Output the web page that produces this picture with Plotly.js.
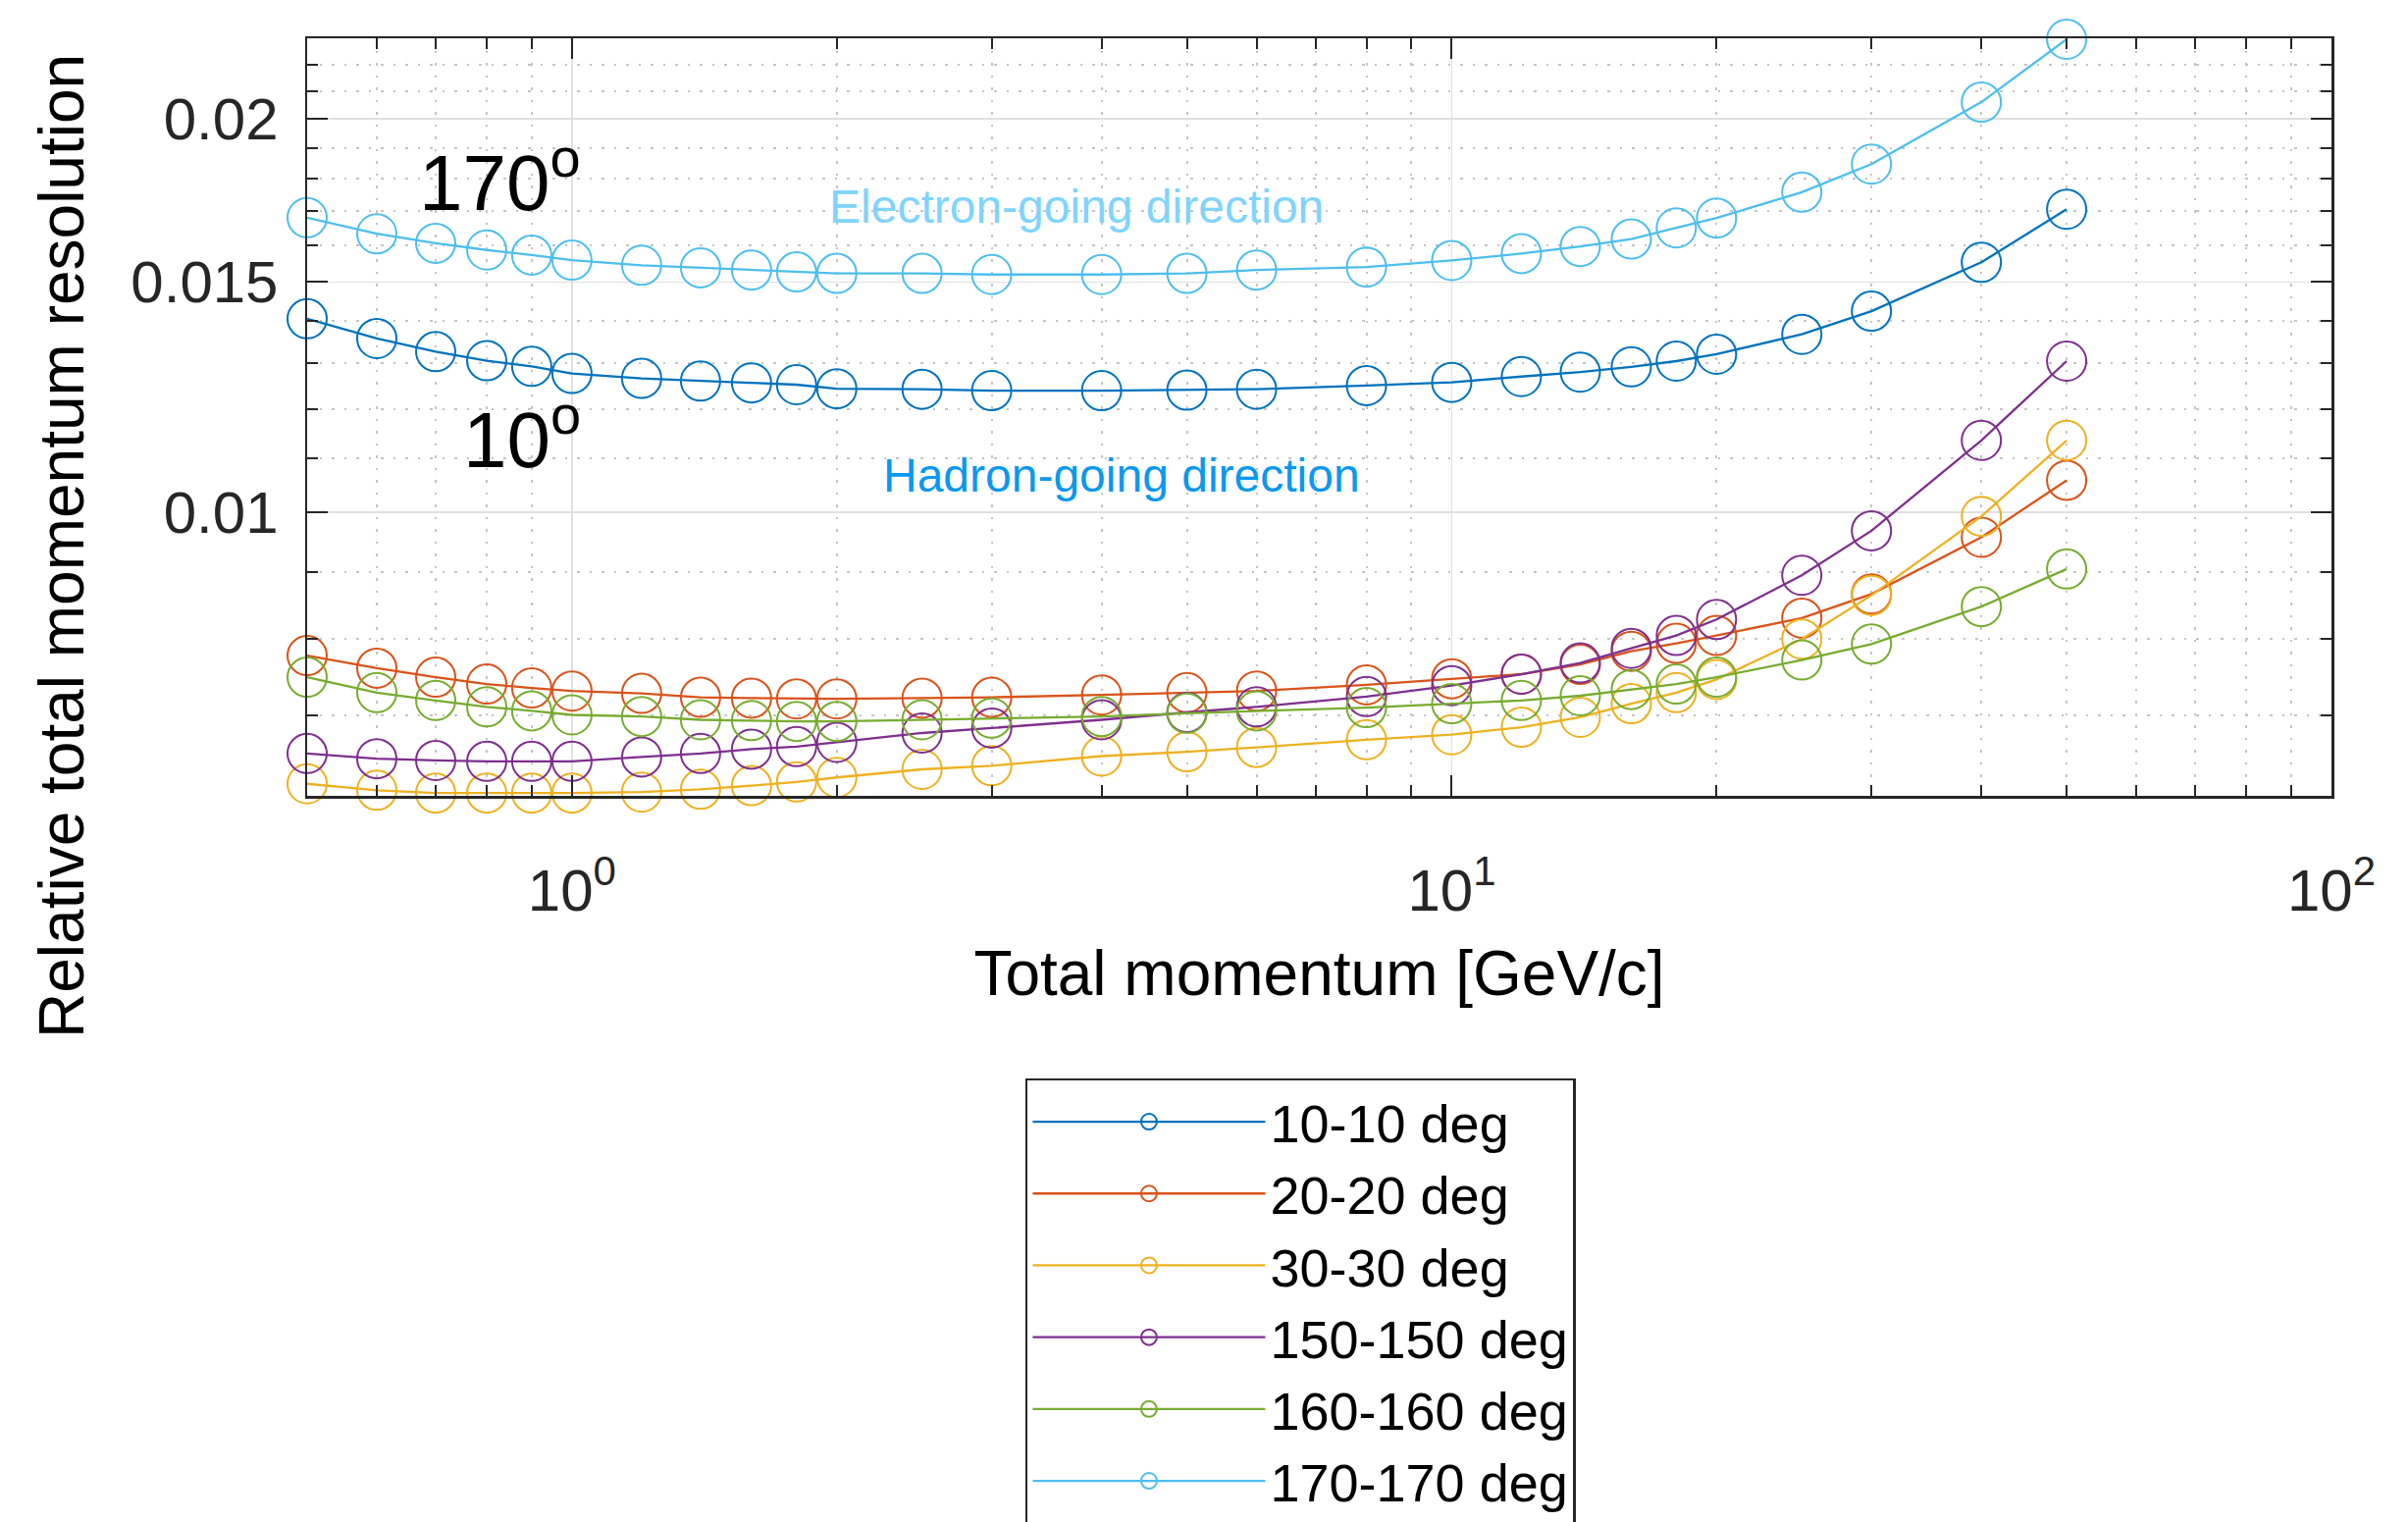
<!DOCTYPE html>
<html>
<head>
<meta charset="utf-8">
<script src="https://cdn.plot.ly/plotly-3.0.1.min.js"></script>
<style>
  html, body { margin: 0; padding: 0; background: #ffffff; }
  #chart { width: 2454px; height: 1551px; }
</style>
</head>
<body>
<div id="chart"></div>
<script>
// ---- data ----
const momentum = [0.5, 0.6, 0.7, 0.8, 0.9, 1.0, 1.2, 1.4, 1.6, 1.8, 2.0, 2.5, 3, 4, 5, 6, 8, 10, 12, 14, 16, 18, 20, 25, 30, 40, 50];

const res_10_10 = [0.01406, 0.01358, 0.01327, 0.01306, 0.01293, 0.01277, 0.01266, 0.01260, 0.01256, 0.01252, 0.01243, 0.01242, 0.01239, 0.01239, 0.01240, 0.01242, 0.01250, 0.01257, 0.01270, 0.01280, 0.01292, 0.01305, 0.01321, 0.01368, 0.01425, 0.01553, 0.01705];
const res_20_20 = [0.00777, 0.00760, 0.00748, 0.00739, 0.00734, 0.00730, 0.00727, 0.00722, 0.00721, 0.00720, 0.00720, 0.00721, 0.00722, 0.00725, 0.00728, 0.00730, 0.00738, 0.00746, 0.00752, 0.00765, 0.00783, 0.00794, 0.00805, 0.00830, 0.00866, 0.00957, 0.01058];
const res_30_30 = [0.00620, 0.00613, 0.00610, 0.00610, 0.00610, 0.00610, 0.00611, 0.00614, 0.00618, 0.00622, 0.00627, 0.00636, 0.00640, 0.00651, 0.00656, 0.00661, 0.00670, 0.00676, 0.00685, 0.00697, 0.00714, 0.00728, 0.00745, 0.00800, 0.00864, 0.00993, 0.01135];
const res_150_150 = [0.00654, 0.00648, 0.00646, 0.00645, 0.00645, 0.00645, 0.00650, 0.00654, 0.00659, 0.00662, 0.00667, 0.00678, 0.00684, 0.00694, 0.00703, 0.00710, 0.00723, 0.00737, 0.00752, 0.00767, 0.00787, 0.00805, 0.00828, 0.00895, 0.00968, 0.01135, 0.01305];
const res_160_160 = [0.00748, 0.00728, 0.00718, 0.00710, 0.00705, 0.00700, 0.00698, 0.00694, 0.00693, 0.00692, 0.00692, 0.00694, 0.00696, 0.00698, 0.00702, 0.00705, 0.00709, 0.00714, 0.00718, 0.00724, 0.00732, 0.00739, 0.00748, 0.00771, 0.00793, 0.00847, 0.00905];
const res_170_170 = [0.01680, 0.01633, 0.01606, 0.01587, 0.01573, 0.01559, 0.01545, 0.01538, 0.01532, 0.01527, 0.01523, 0.01523, 0.01520, 0.01520, 0.01523, 0.01532, 0.01540, 0.01558, 0.01577, 0.01597, 0.01618, 0.01650, 0.01679, 0.01757, 0.01846, 0.02059, 0.02300];

const seriesNames = ['10-10 deg', '20-20 deg', '30-30 deg', '150-150 deg', '160-160 deg', '170-170 deg'];
const seriesValues = [res_10_10, res_20_20, res_30_30, res_150_150, res_160_160, res_170_170];
const seriesColors = ['#0072BD', '#D95319', '#EDB120', '#7E2F8E', '#77AC30', '#4DBEEE'];

const xTickVals = [1, 10, 100];
const xTickText = ['10<sup>0</sup>', '10<sup>1</sup>', '10<sup>2</sup>'];
const xMinorVals = [0.6, 0.7, 0.8, 0.9, 2, 3, 4, 5, 6, 7, 8, 9, 20, 30, 40, 50, 60, 70, 80, 90];
const yTickVals = [0.01, 0.015, 0.02];
const yTickText = ['0.01', '0.015', '0.02'];
const yMinorVals = [0.007, 0.008, 0.009, 0.011, 0.012, 0.013, 0.014, 0.016, 0.017, 0.018, 0.019, 0.021, 0.022];

const xRange = [0.5, 100];
const yRange = [0.00607, 0.02304];

// ---- build traces ----
const FONT = '"Liberation Sans", Arial, Helvetica, sans-serif';
const traces = seriesNames.map((name, i) => ({
  type: 'scatter',
  mode: 'lines+markers',
  name: name,
  x: momentum,
  y: seriesValues[i],
  cliponaxis: false,
  line: { color: seriesColors[i], width: 2.3 },
  marker: { symbol: 'circle-open', size: 40, color: seriesColors[i], line: { width: 2, color: seriesColors[i] } }
}));

const axisCommon = {
  type: 'log',
  ticks: 'inside',
  ticklen: 21,
  tickwidth: 2,
  tickcolor: '#262626',
  showline: true,
  linecolor: '#262626',
  linewidth: 2.5,
  mirror: 'allticks',
  showgrid: true,
  gridcolor: '#e0e0e0',
  gridwidth: 1.5,
  zeroline: false,
  tickfont: { family: FONT, size: 60, color: '#262626' }
};

const minorCommon = {
  tickmode: 'array', ticks: 'inside', ticklen: 11, tickwidth: 2, tickcolor: '#262626',
  showgrid: true, gridcolor: '#c4c4c4', griddash: '2.5px,10px', gridwidth: 2
};

const layout = {
  width: 2454,
  height: 1551,
  margin: { l: 313, r: 78, t: 39, b: 740, pad: 0, autoexpand: false },
  paper_bgcolor: '#ffffff',
  plot_bgcolor: '#ffffff',
  font: { family: FONT, color: '#000000' },
  showlegend: true,
  xaxis: Object.assign({}, axisCommon, {
    range: [Math.log10(xRange[0]), Math.log10(xRange[1])],
    tickmode: 'array',
    tickvals: xTickVals,
    ticktext: xTickText,
    ticklabelstandoff: 42,
    minor: Object.assign({ tickvals: xMinorVals }, minorCommon),
    title: { text: 'Total momentum [GeV/c]', font: { family: FONT, size: 64, color: '#000000' }, standoff: 30 }
  }),
  yaxis: Object.assign({}, axisCommon, {
    range: [Math.log10(yRange[0]), Math.log10(yRange[1])],
    tickmode: 'array',
    tickvals: yTickVals,
    ticktext: yTickText,
    ticklabelstandoff: 15,
    minor: Object.assign({ tickvals: yMinorVals }, minorCommon)
  }),
  legend: {
    x: 0.3548, y: -0.373, xanchor: 'left', yanchor: 'top',
    bgcolor: '#ffffff', bordercolor: '#262626', borderwidth: 2.5,
    font: { family: FONT, size: 54, color: '#000000' },
    itemwidth: 237,
    traceorder: 'normal'
  },
  annotations: [
    { text: 'Relative total momentum resolution', xref: 'paper', yref: 'paper', x: -0.1212, y: 0.3303,
      xanchor: 'center', yanchor: 'middle', textangle: -90, showarrow: false,
      font: { family: FONT, size: 64, color: '#000000' } },
    { text: '170<sup>o</sup>', xref: 'paper', yref: 'paper', x: 0.1362, y: 0.818,
      xanchor: 'right', yanchor: 'middle', showarrow: false,
      font: { family: FONT, size: 80, color: '#000000' } },
    { text: '10<sup>o</sup>', xref: 'paper', yref: 'paper', x: 0.1362, y: 0.4785,
      xanchor: 'right', yanchor: 'middle', showarrow: false,
      font: { family: FONT, size: 80, color: '#000000' } },
    { text: 'Electron-going direction', xref: 'paper', yref: 'paper', x: 0.380, y: 0.778,
      xanchor: 'center', yanchor: 'middle', showarrow: false,
      font: { family: FONT, size: 48, color: '#80D4FC' } },
    { text: 'Hadron-going direction', xref: 'paper', yref: 'paper', x: 0.4023, y: 0.4229,
      xanchor: 'center', yanchor: 'middle', showarrow: false,
      font: { family: FONT, size: 48, color: '#0A98F0' } }
  ]
};

Plotly.newPlot('chart', traces, layout, { staticPlot: true, displayModeBar: false });
</script>
</body>
</html>
